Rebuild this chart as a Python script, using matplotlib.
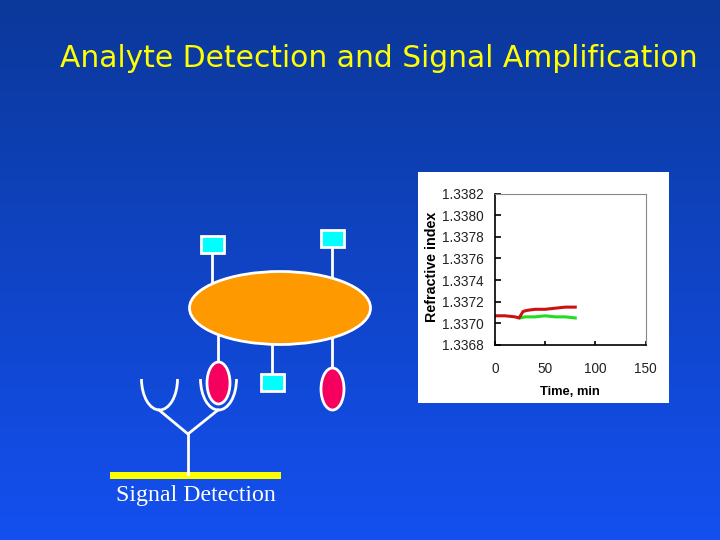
import numpy as np
import matplotlib.pyplot as plt
from matplotlib.patches import Ellipse, Rectangle, Arc

# Refractive index trace
time_red = [0, 10, 20, 24, 26, 28, 32, 40, 50, 60, 70, 80]
ri_red = [1.33707, 1.33707, 1.33706, 1.33705, 1.33708, 1.33711, 1.33712, 1.33713, 1.33713, 1.33714, 1.33715, 1.33715]
time_green = [25, 30, 40, 50, 60, 70, 80]
ri_green = [1.33705, 1.33706, 1.33706, 1.33707, 1.33706, 1.33706, 1.33705]

y_ticks = [1.3368, 1.3370, 1.3372, 1.3374, 1.3376, 1.3378, 1.3380, 1.3382]
x_ticks = [0, 50, 100, 150]

W, H = 720, 540


def px_axes(fig, left, top, right, bottom):
    """Axes placed by pixel edges, measured from the top left of the slide."""
    return fig.add_axes([left / W, 1 - bottom / H, (right - left) / W, (bottom - top) / H])


def draw_background(fig):
    ax = fig.add_axes([0, 0, 1, 1], zorder=0)
    top = np.array([0x0b, 0x38, 0x9a]) / 255
    bottom = np.array([0x14, 0x50, 0xf0]) / 255
    t = np.linspace(0, 1, 256)[:, None, None]
    ax.imshow(top * (1 - t) + bottom * t, aspect="auto", extent=[0, W, H, 0])
    ax.axis("off")


def draw_diagram(fig):
    ax = fig.add_axes([0, 0, 1, 1], zorder=1)
    ax.set_xlim(0, W)
    ax.set_ylim(H, 0)
    ax.axis("off")
    ax.patch.set_alpha(0)

    # stems from the orange particle
    for x, y0, y1 in [(212, 252, 285), (332, 246, 282), (218, 335, 365), (272, 340, 375), (332, 335, 370)]:
        ax.plot([x, x], [y0, y1], color="white", lw=2, zorder=1)

    ax.add_patch(Ellipse((280, 308), 181, 73, fc="#ff9900", ec="white", lw=2, zorder=2))

    for x, y, w, h in [(201, 236, 23, 17), (321, 230, 23, 17), (261, 374, 23, 17)]:
        ax.add_patch(Rectangle((x, y), w, h, fc="#00ffff", ec="white", lw=2, zorder=3))

    for x, y in [(218.5, 383), (332.5, 389)]:
        ax.add_patch(Ellipse((x, y), 23, 42, fc="#f5005f", ec="white", lw=2, zorder=3))

    # antibody: stem, fork and the two binding cups
    ax.plot([188, 188], [474, 434], color="white", lw=2)
    ax.plot([159, 188, 218], [410, 434, 410], color="white", lw=2)
    for x, w in [(159.5, 36), (218.5, 36)]:
        ax.add_patch(Arc((x, 379), w, 62, theta1=0, theta2=180, ec="white", lw=2))

    ax.add_patch(Rectangle((110, 472), 171, 7, fc="#ffff00", ec="none"))

    ax.text(378.5, 58.5, "Analyte Detection and Signal Amplification", color="#ffff00", fontsize=21.4,
            family="DejaVu Sans", ha="center", va="center")
    ax.text(196, 495, "Signal Detection", color="white", fontsize=17.2, family="Liberation Serif",
            ha="center", va="center")
    ax.add_patch(Rectangle((418, 172), 251, 231, fc="white", ec="none"))


def draw_inset(fig):
    ax = px_axes(fig, 495, 193.5, 645.5, 345)
    ax.set_zorder(2)
    ax.plot(time_green, ri_green, color="#22dd22", lw=2.2)
    ax.plot(time_red, ri_red, color="#cc1111", lw=2.2)
    ax.set_xlim(0, 150)
    ax.set_ylim(1.3368, 1.3382)
    ax.set_xticks(x_ticks)
    ax.set_yticks(y_ticks)
    ax.set_yticklabels([f"{v:.4f}" for v in y_ticks])
    ax.tick_params(direction="in", length=4, width=1.2, labelsize=9.8, pad=8, labelcolor="#222222")
    ax.tick_params(axis="x", length=3, pad=12)
    for lab in ax.get_xticklabels() + ax.get_yticklabels():
        lab.set_family("Liberation Sans")
    ax.spines["top"].set_color("#888888")
    ax.spines["right"].set_color("#888888")
    ax.spines["left"].set_linewidth(1.2)
    ax.spines["bottom"].set_linewidth(1.2)
    ax.set_xlabel("Time, min", fontsize=9.3, fontweight="bold", family="Liberation Sans", labelpad=7.5)
    ax.set_ylabel("Refractive index", fontsize=10.3, fontweight="bold", family="Liberation Sans", labelpad=2, y=0.515)


def main():
    fig = plt.figure(figsize=(7.2, 5.4), dpi=100)
    draw_background(fig)
    draw_diagram(fig)
    draw_inset(fig)
    fig.savefig("out.png", dpi=100)


if __name__ == "__main__":
    main()
